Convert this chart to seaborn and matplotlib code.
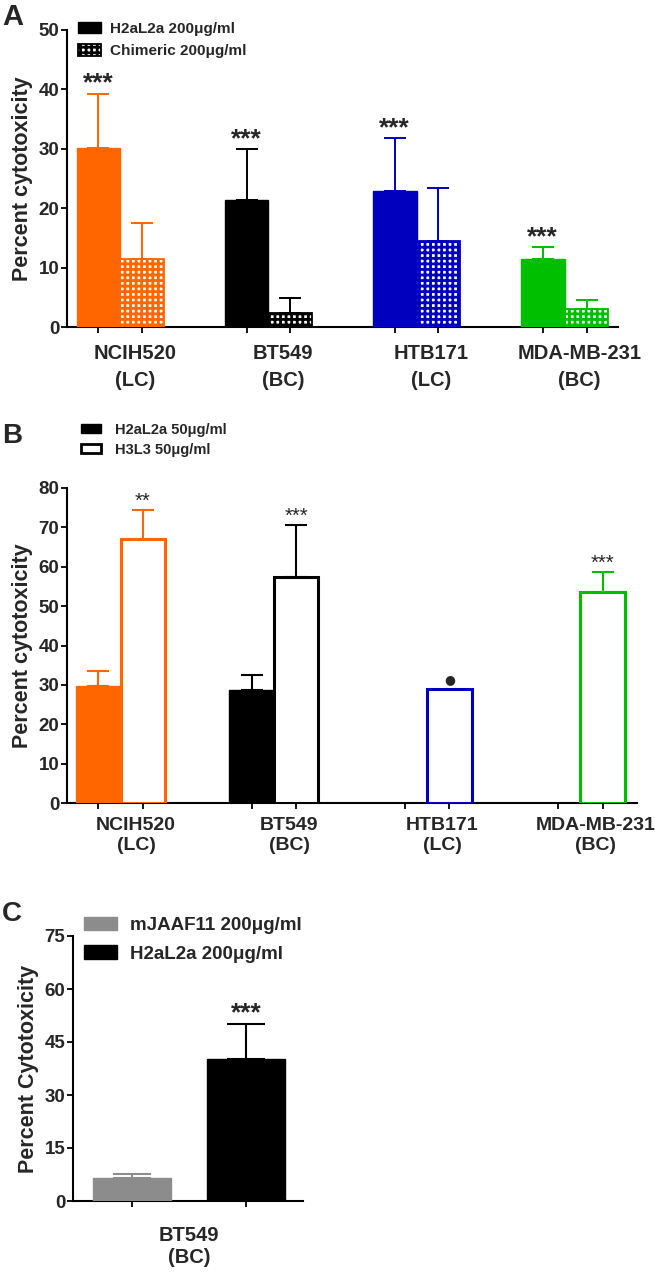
import matplotlib
matplotlib.use('Agg')
import matplotlib.pyplot as plt
import matplotlib.patches as mpatches
from matplotlib.container import BarContainer
from matplotlib.ticker import FixedLocator, NullFormatter, FixedFormatter
import seaborn as sns
import pandas as pd

sns.set_style('ticks')
plt.rcParams['font.family'] = ['Liberation Sans', 'DejaVu Sans']
plt.rcParams['font.weight'] = 'bold'
plt.rcParams['hatch.linewidth'] = 2.0

# ---- data ----
cells = ['NCIH520', 'BT549', 'HTB171', 'MDA-MB-231']
cell_types = ['(LC)', '(BC)', '(LC)', '(BC)']
cell_colors = ['#FF6600', '#000000', '#0000BE', '#00BE00']

# panel A
a_treat = ['H2aL2a 200μg/ml', 'Chimeric 200μg/ml']
a_h2al2a = [30.1, 21.3, 22.9, 11.5]
a_h2al2a_err = [9.2, 8.7, 8.9, 1.9]
a_chimeric = [11.4, 2.4, 14.5, 3.1]
a_chimeric_err = [6.1, 2.4, 8.9, 1.5]
a_stars = ['***', '***', '***', '***']

# panel B
b_treat = ['H2aL2a 50μg/ml', 'H3L3 50μg/ml']
b_h2al2a = [29.7, 28.7, None, None]
b_h2al2a_err = [3.8, 3.9, None, None]
b_h3l3 = [67.0, 57.4, 28.9, 53.6]
b_h3l3_err = [7.3, 13.2, 0.0, 5.0]
b_marks = ['**', '***', '●', '***']

# panel C
c_cell = 'BT549\n(BC)'
c_treat = ['mJAAF11 200μg/ml', 'H2aL2a 200μg/ml']
c_values = [6.5, 40.1]
c_err = [1.1, 10.1]
c_colors = ['#8C8C8C', '#000000']

fig = plt.figure(figsize=(6.55, 12.72), dpi=100)
W, H = 655, 1272


def add_ax(l, r, t, b):
    return fig.add_axes([l / W, 1 - b / H, (r - l) / W, (b - t) / H])


def bar_sets(ax):
    return [c for c in list(ax.containers) if isinstance(c, BarContainer)]


def style_ax(ax, yticks, ylim, xlim, ylabel):
    sns.despine(ax=ax)
    for s in ['left', 'bottom']:
        ax.spines[s].set_linewidth(1.5)
        ax.spines[s].set_color('black')
    ax.set_ylim(*ylim)
    ax.set_xlim(*xlim)
    ax.set_yticks(yticks)
    ax.tick_params(axis='both', which='major', direction='out', length=4,
                   width=1.3, color='black', labelsize=13.5, pad=1.5)
    for lab in ax.get_yticklabels():
        lab.set_fontweight('bold')
    ax.set_ylabel(ylabel, fontsize=15.5, fontweight='bold', labelpad=4)
    ax.set_xlabel('')


def bar_centers(ax):
    out = []
    for cont in bar_sets(ax):
        for bar in cont:
            if bar is not None:
                out.append(bar.get_x() + bar.get_width() / 2)
    return sorted(out)


def group_labels(ax, labels, offset, fontsize, pad, spacing):
    n = len(labels)
    ax.xaxis.set_minor_locator(FixedLocator([i + offset for i in range(n)]))
    ax.xaxis.set_minor_formatter(FixedFormatter(labels))
    ax.xaxis.set_major_formatter(NullFormatter())
    ax.tick_params(axis='x', which='minor', length=0, pad=pad, labelsize=fontsize)
    for lab in ax.xaxis.get_minorticklabels():
        lab.set_fontweight('bold')
        lab.set_linespacing(spacing)


# ================= Panel A =================
axA = add_ax(67, 618, 30, 327)
dfA = pd.DataFrame({
    'cell': cells * 2,
    'treatment': [a_treat[0]] * 4 + [a_treat[1]] * 4,
    'value': a_h2al2a + a_chimeric,
})
sns.barplot(data=dfA, x='cell', y='value', hue='treatment', order=cells,
            hue_order=a_treat, width=0.59, errorbar=None, legend=False,
            palette=['black', 'black'], saturation=1, ax=axA)
errsA = [a_h2al2a_err, a_chimeric_err]
for h, cont in enumerate(bar_sets(axA)):
    for bar in cont:
        if bar is None:
            continue
        xc = bar.get_x() + bar.get_width() / 2
        i = int(round(xc))
        col = cell_colors[i]
        if h == 0:
            bar.set_facecolor(col)
            bar.set_edgecolor(col)
            bar.set_linewidth(1)
        else:
            bar.set_facecolor('white')
            bar.set_edgecolor(col)
            bar.set_hatch('+++')
            bar.set_linewidth(1.3)
        bar.set_zorder(3)
        top = bar.get_height()
        axA.errorbar(xc, top, yerr=[[0], [errsA[h][i]]], fmt='none', ecolor=col,
                     elinewidth=1.4, capsize=8, capthick=1.4, zorder=2)
        if h == 0:
            axA.annotate(a_stars[i], xy=(xc, top + errsA[h][i]), xytext=(0, 2),
                         textcoords='offset points', ha='center', va='baseline',
                         fontsize=19, fontweight='bold')
style_ax(axA, [0, 10, 20, 30, 40, 50], (0, 50), (-0.36, 3.36), 'Percent cytotoxicity')
axA.set_xticks(bar_centers(axA))
group_labels(axA, [f'{c}\n{t}' for c, t in zip(cells, cell_types)], 0.1, 14.5, 12, 1.55)
hA = [mpatches.Patch(facecolor='black', edgecolor='black'),
      mpatches.Patch(facecolor='white', edgecolor='black', hatch='+++', linewidth=1.3)]
fig.legend(hA, a_treat, loc='upper left', bbox_to_anchor=(78 / W, 1 - 22 / H),
           frameon=False, borderpad=0, borderaxespad=0, handlelength=1.5,
           handleheight=0.75, handletextpad=0.6, labelspacing=0.55,
           prop={'size': 11, 'weight': 'bold'})
fig.text(2 / W, 1 - 3 / H, 'A', fontsize=21, fontweight='bold', va='top', ha='left')

# ================= Panel B =================
axB = add_ax(67, 637, 488, 803)
dfB = pd.DataFrame({
    'cell': cells * 2,
    'treatment': [b_treat[0]] * 4 + [b_treat[1]] * 4,
    'value': b_h2al2a + b_h3l3,
}).dropna()
sns.barplot(data=dfB, x='cell', y='value', hue='treatment', order=cells,
            hue_order=b_treat, width=0.58, errorbar=None, legend=False,
            palette=['black', 'black'], saturation=1, ax=axB)
errsB = [b_h2al2a_err, b_h3l3_err]
for h, cont in enumerate(bar_sets(axB)):
    for bar in cont:
        if bar is None:
            continue
        xc = bar.get_x() + bar.get_width() / 2
        i = int(round(xc))
        col = cell_colors[i]
        if h == 0:
            bar.set_facecolor(col)
            bar.set_edgecolor(col)
            bar.set_linewidth(1)
        else:
            bar.set_facecolor('white')
            bar.set_edgecolor(col)
            bar.set_linewidth(2.2)
        bar.set_zorder(3)
        top = bar.get_height()
        err = errsB[h][i]
        if err:
            axB.errorbar(xc, top, yerr=[[0], [err]], fmt='none', ecolor=col,
                         elinewidth=1.5, capsize=8, capthick=1.5, zorder=2)
        if h == 1:
            mark = b_marks[i]
            if mark == '●':
                axB.annotate(mark, xy=(xc, top + err), xytext=(0, 7),
                             textcoords='offset points', ha='center', va='center',
                             fontsize=9, family='DejaVu Sans')
            else:
                axB.annotate(mark, xy=(xc, top + err), xytext=(0, 2.5),
                             textcoords='offset points', ha='center', va='baseline',
                             fontsize=14.5, fontweight='normal')
style_ax(axB, list(range(0, 81, 10)), (0, 80), (-0.35, 3.37), 'Percent cytotoxicity')
# two ticks per group, at the dodged bar positions (some bars are missing in B)
off = 0.58 / 4
axB.set_xticks([i + d for i in range(len(cells)) for d in (-off, off)])
group_labels(axB, [f'{c}\n{t}' for c, t in zip(cells, cell_types)], 0.1, 14, 10, 1.25)
hB = [mpatches.Patch(facecolor='black', edgecolor='black'),
      mpatches.Patch(facecolor='white', edgecolor='black', linewidth=2)]
fig.legend(hB, b_treat, loc='upper left', bbox_to_anchor=(81 / W, 1 - 423 / H),
           frameon=False, borderpad=0, borderaxespad=0, handlelength=1.35,
           handleheight=0.6, handletextpad=1.0, labelspacing=0.38,
           prop={'size': 10.5, 'weight': 'bold'})
fig.text(2 / W, 1 - 423 / H, 'B', fontsize=20, fontweight='bold', va='top', ha='left')

# ================= Panel C =================
axC = add_ax(73, 303, 936, 1201)
dfC = pd.DataFrame({'treatment': c_treat, 'value': c_values})
sns.barplot(data=dfC, x='treatment', y='value', hue='treatment', order=c_treat,
            hue_order=c_treat, width=0.69, errorbar=None, legend=False,
            palette=c_colors, saturation=1, dodge=False, ax=axC)
for cont in bar_sets(axC):
    for bar in cont:
        if bar is None:
            continue
        xc = bar.get_x() + bar.get_width() / 2
        i = int(round(xc))
        bar.set_edgecolor(c_colors[i])
        bar.set_zorder(3)
        axC.errorbar(xc, c_values[i], yerr=[[0], [c_err[i]]], fmt='none',
                     ecolor=c_colors[i], elinewidth=1.5, capsize=13.5, capthick=1.5,
                     zorder=2)
axC.annotate('***', xy=(1, c_values[1] + c_err[1]), xytext=(0, 2.5),
             textcoords='offset points', ha='center', va='baseline',
             fontsize=19, fontweight='bold')
style_ax(axC, [0, 15, 30, 45, 60, 75], (0, 75), (-0.52, 1.5), 'Percent Cytotoxicity')
axC.set_xticks([0, 1])
axC.xaxis.set_minor_locator(FixedLocator([0.5]))
axC.xaxis.set_minor_formatter(FixedFormatter([c_cell]))
axC.xaxis.set_major_formatter(NullFormatter())
axC.tick_params(axis='x', which='minor', length=0, pad=18, labelsize=14.5)
for lab in axC.xaxis.get_minorticklabels():
    lab.set_fontweight('bold')
    lab.set_linespacing(1.2)
hC = [mpatches.Patch(facecolor=c, edgecolor=c) for c in c_colors]
fig.legend(hC, c_treat, loc='upper left', bbox_to_anchor=(84 / W, 1 - 917 / H),
           frameon=False, borderpad=0, borderaxespad=0, handlelength=1.75,
           handleheight=0.72, handletextpad=0.7, labelspacing=0.6,
           prop={'size': 13.5, 'weight': 'bold'})
fig.text(2 / W, 1 - 901 / H, 'C', fontsize=20, fontweight='bold', va='top', ha='left')

fig.savefig('out.png', dpi=100)
